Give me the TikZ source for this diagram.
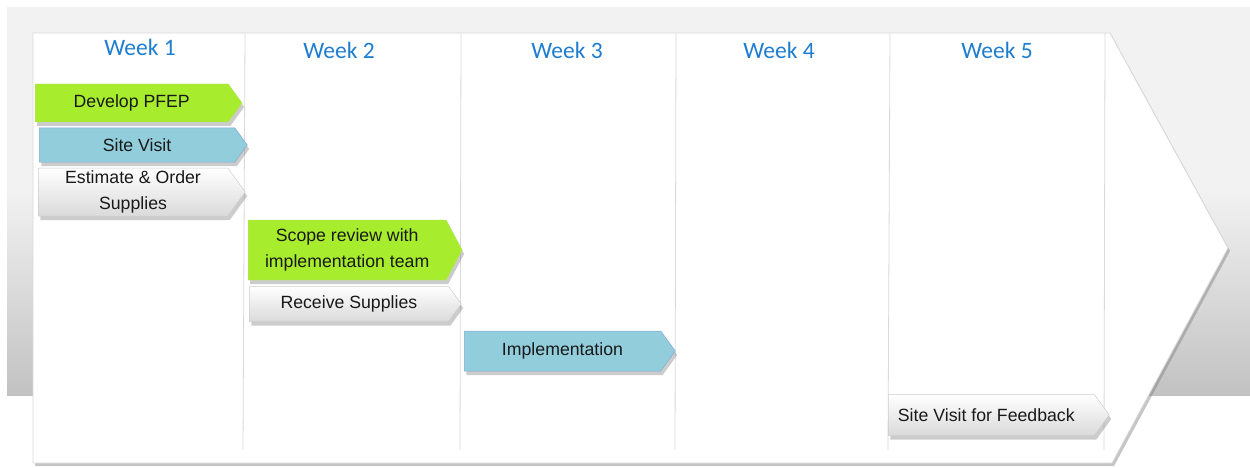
\documentclass[tikz,border=0pt]{standalone}
\usepackage{fontspec}
\setmainfont{Liberation Sans}
\newfontfamily\weekfont{Carlito}
\usetikzlibrary{shapes.symbols,shadows}
\definecolor{bgtop}{HTML}{F2F2F2}
\definecolor{bgbot}{HTML}{C2C2C2}
\definecolor{weekblue}{RGB}{30,125,208}
\definecolor{limegreen}{RGB}{168,236,46}
\definecolor{aqua}{RGB}{146,205,220}
\definecolor{aquaedge}{RGB}{130,170,215}
\definecolor{colgray}{HTML}{D9D9D9}
\definecolor{boxbot}{HTML}{DADADA}
\tikzset{
  colline/.style={draw=colgray, line width=0.8pt},
  weeklabel/.style={font=\weekfont\fontsize{23.5}{26}\selectfont, text=weekblue, inner sep=0pt},
  task/.style={shape=signal, signal to=east, signal pointer angle=108, anchor=west,
    font=\fontsize{17.7}{26}\selectfont, align=center, inner sep=2pt, text=black!90,
    drop shadow={shadow xshift=2pt, shadow yshift=-4pt, opacity=0.4}},
  greentask/.style={task, fill=limegreen, draw=limegreen!85!black!60, line width=0.3pt},
  bluetask/.style={task, fill=aqua, draw=aquaedge, line width=0.5pt},
  whitetask/.style={task, top color=white, bottom color=boxbot, draw=black!20, line width=0.5pt},
  mainarrow/.style={fill=white, draw=black!15, line width=0.8pt,
    drop shadow={shadow xshift=2pt, shadow yshift=-3pt, opacity=0.45}}
}
\begin{document}
\begin{tikzpicture}[x=1pt,y=-1pt]
\useasboundingbox (0,0) rectangle (1250,468);
\fill[white] (0,0) rectangle (1250,468);
\fill[bgtop] (7,7) rectangle (1250,190);
\shade[top color=bgtop, bottom color=bgbot] (7,189) rectangle (1250,395);
% big white arrow
\draw[mainarrow] (33,33) -- (1110,33) -- (1228,248) -- (1112,463) -- (33,463) -- cycle;
% column lines
\draw[colline] (245,33) -- (243,450);
\draw[colline] (461,33) -- (460,450);
\draw[colline] (676,33) -- (675,450);
\draw[colline] (890,33) -- (888,450);
\draw[colline] (1105,33) -- (1104,450);
% week headings
\node[weeklabel] (w1) at (140,47) {Week 1};
\node[weeklabel] (w2) at (339,50) {Week 2};
\node[weeklabel] (w3) at (567,50) {Week 3};
\node[weeklabel] (w4) at (779,50) {Week 4};
\node[weeklabel] (w5) at (997,50) {Week 5};
% tasks
\node[greentask, minimum width=207pt, minimum height=38pt] (t1) at (35,103) {\raisebox{-1.5pt}{Develop PFEP}};
\node[bluetask, minimum width=208pt, minimum height=34pt] (t2) at (39,145) {Site Visit};
\node[whitetask, minimum width=207pt, minimum height=48pt] (t3) at (38,192) {\raisebox{-2pt}{Estimate \& Order}\\\raisebox{-2pt}{Supplies}};
\node[greentask, signal pointer angle=124, minimum width=214pt, minimum height=60pt] (t4) at (248,250) {Scope review with\\implementation team};
\node[whitetask, minimum width=212pt, minimum height=35pt] (t5) at (249,304) {\raisebox{-2.5pt}{Receive Supplies}};
\node[bluetask, minimum width=211pt, minimum height=40pt] (t6) at (464,351) {\raisebox{-2.5pt}{Implementation}};
\node[whitetask, minimum width=221pt, minimum height=41pt] (t7) at (888,415) {Site Visit for Feedback\hspace*{10pt}};
\end{tikzpicture}
\end{document}
